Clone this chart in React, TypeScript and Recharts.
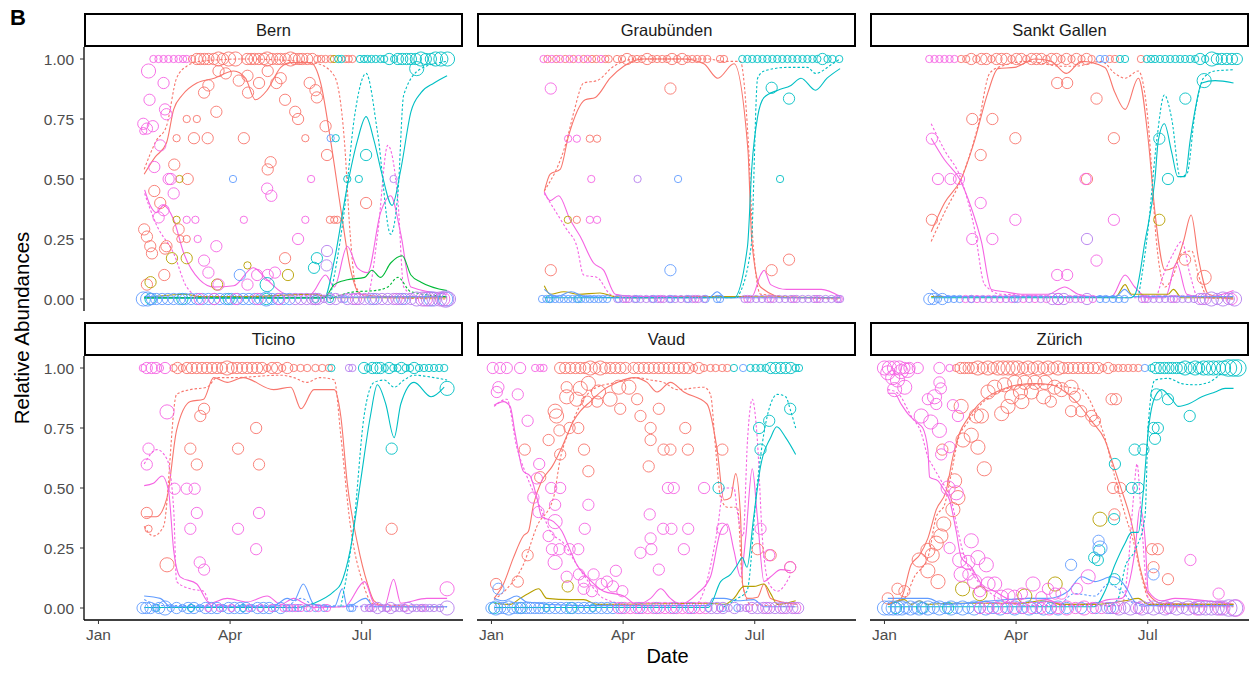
import React from 'react'
import { ComposedChart, Scatter, Line, XAxis, YAxis, ZAxis } from 'recharts'

// variant colours (ggplot hue) + blended purple for overlapping blue/magenta circles
const COLORS = ['#F8766D', '#B79F00', '#00BA38', '#00BFC4', '#619CFF', '#F564E3', '#B57FEE']

const MONTHS = ['Jan', 'Apr', 'Jul']
const MONTH_DAYS = [0, 91, 182]
const Y_TICKS = [0, 0.25, 0.5, 0.75, 1]

// row points: [day, variant, n]   (top row = 1.00, bottom row = 0.00)
// mid points: [day, value, variant, n]
// trends: { c: variant, dot: dotted?, p: [day, value][] }

const bernTop = [[38,5,1],[41.5,5,1],[45,5,1],[48.4,5,1],[52,5,1],[55.4,5,1],[58.5,5,1],[61,5,1],
  [64.7,0,1],[68,0,2],[70.4,0,2],[73.2,0,2],[76,0,2],[79.7,0,2],[83,0,3],[86,0,2],[90,0,3],[94.7,0,3],[102.8,0,2],[105.5,0,2],[107.9,0,2],[110.9,0,2],[114.3,0,2],[116.6,0,3],[120,0,2],[123.6,0,2],[125.9,0,2],[129.3,0,2],[132.8,0,3],[135.6,0,2],[138.6,0,2],[140.9,0,2],[144.3,0,2],[147.8,0,2],[151.3,0,1],[154,0,1],[157,0,1],[160.5,0,1],
  [162.8,1,1],[165.8,3,1],[168,3,1],[171,0,1],[173,0,1],[175.5,0,1],
  [180.8,3,1],[183.6,3,1],[186,3,1],[188.7,3,1],[191.7,3,1],[195,3,1],[197.5,3,1],[201,3,2],[204.4,3,1],[207,3,2],[210,3,2],[213,3,2],[216,3,2],[219.4,3,2],[222.9,3,3],[226.3,3,2],[229.8,3,2],[233,3,3],[236.7,3,3],[241.3,3,3]]
const bernBottom = [[31,4,3],[34,4,3],[37,4,2],[40,4,2],[44,4,2],[48,4,2],[52,4,2],[56,4,2],[60,4,2],[64,4,2],[68,4,2],[72,4,2],[76,4,2],[80,4,2],[84,4,2],[88,4,2],[92,4,2],[96,4,2],[100,4,2],[104,4,2],[108,4,2],[112,4,2],[116,4,3],[120,4,2],[124,4,2],[128,4,2],[132,4,2],
  [36,3,2],[58,3,2],[90,3,2],[116,3,2],[150,3,1],[160,3,1],[150,4,2],[170,4,1],[190,4,2],[210,4,2],[230,4,3],[240,4,3],
  [70,5,2],[80,5,2],[95,5,2],[110,5,2],[125,5,2],[136,6,2],[140,6,2],[144,6,2],[148,6,2],[152,6,2],[156,6,1],[160,6,2],[164,6,2],[168,6,1],[172,6,2],[176,6,2],[180,6,2],[184,6,2],[188,6,2],[192,6,2],[196,6,2],[200,6,2],[204,6,2],[208,6,2],[212,6,2],[216,6,2],[220,6,3],[224,6,3],[228,6,3],[232,6,3],[236,6,3],[240,6,4],[242,6,3],
  [150,5,2],[178,5,2],[206,5,2],[226,5,3],[238,5,3]]
const bernMid = [[34.6,.95,5,3],[45,.90,5,2],[35.3,.83,5,2],[46,.79,5,2],[47,.77,5,2],[31,.73,5,2],[33.5,.71,5,2],[37.6,.72,5,2],[31,.70,5,1],[42.7,.64,5,2],[38.6,.55,5,2],[48.5,.50,5,2],[50,.50,5,2],[52,.44,5,2],[41.6,.34,5,2],[45,.37,5,2],[61,.33,5,1],[67,.33,5,1],[68.6,.25,5,1],[73,.16,5,2],[76,.11,5,2],[81.5,.22,5,2],[83,.06,5,2],[100.5,.33,5,1],[116.6,.46,5,2],[119.5,.43,5,2],[109.7,.10,5,2],[117,.10,5,2],[122,.11,5,2],[138,.25,5,2],[147,.50,5,1],[143,.33,5,1],[103,.06,5,2],
  [31.6,.29,0,2],[33.5,.26,0,2],[37,.19,0,2],[35.8,.22,0,2],[47,.22,0,2],[46,.21,0,2],[45.5,.10,0,2],[33.5,.06,0,2],[52.4,.56,0,2],[38.6,.45,0,2],[42.7,.40,0,2],[55.4,.29,0,2],[56.6,.25,0,1],[61,.25,0,1],[61.7,.50,0,2],[54,.67,0,1],[61,.75,0,1],[68,.75,0,1],[66,.67,0,2],[75.5,.67,0,2],[73,.86,0,2],[76,.89,0,2],[81.5,.78,0,2],[83,.95,0,2],[88,.94,0,2],[97,.91,0,2],[100.5,.67,0,2],[103,.93,0,2],[103.4,.86,0,2],[111,.90,0,2],[117,.95,0,2],[119,.57,0,2],[117,.54,0,2],[123,.90,0,2],[126,.92,0,2],[129,.83,0,2],[129,.17,0,2],[136,.78,0,2],[138,.75,0,2],[143,.67,0,1],[146,.90,0,2],[150,.87,0,2],[151,.84,0,2],[157,.72,0,2],[158,.60,0,2],[160,.33,0,1],[163,.33,0,1],[165,.33,0,1],[185,.40,0,2],
  [36,.07,1,2],[50.8,.17,1,2],[61,.17,1,2],[56,.50,1,1],[54,.33,1,1],[103,.14,1,1],[131,.10,1,2],[82,.06,1,2],
  [116.6,.06,3,3],[151,.17,3,2],[149,.13,3,2],[164,.67,3,1],[172,.50,3,1],[180,.50,3,1],[185,.60,3,2],[220,.96,3,3],
  [93,.50,4,1],[97.7,.10,4,2],[160.5,.67,4,1],[204,.50,6,1],[158,.20,6,2],[157.7,.14,6,2]]
const bernTrends = [
  { c: 0, p: [[31.6,.52],[39,.59],[47,.65],[52,.79],[58,.85],[68,.90],[80,.92],[93.5,.95],[101.6,.92],[108.5,.83],[116.6,.87],[126,.965],[133,.985],[146.6,.985],[153.6,.90],[160.5,.66],[167.4,.38],[174,.13],[181,.02],[200,.01],[241,.01]] },
  { c: 0, dot: true, p: [[31.6,.54],[40,.66],[47,.72],[54,.92],[61,.97],[70,.99],[100,1],[140,.99],[152,.98],[163,.93],[170,.66],[174,.27],[178,.05],[185,.01],[241,0]] },
  { c: 5, p: [[31.9,.455],[35.8,.39],[40,.36],[45,.39],[52,.33],[59,.19],[70,.08],[80,.05],[93.5,.055],[107,.13],[116.6,.08],[130.5,.02],[146.6,.02],[157,.10],[163,.05],[172,.22],[179,.13],[186,.11],[195,.36],[202,.43],[209,.27],[216,.05],[241,.02]] },
  { c: 5, dot: true, p: [[31.9,.44],[40,.31],[52,.19],[61,.05],[70,.01],[186,.02],[193,.27],[200,.64],[207,.41],[211,.05],[220,.01],[241,.01]] },
  { c: 1, p: [[31.6,.005],[60,.02],[70,.01],[100,.01],[150,.02],[160,.005],[241,.005]] },
  { c: 4, p: [[31.6,.01],[80,.005],[241,.01]] },
  { c: 3, p: [[31.6,.003],[156,.003],[163,.16],[172,.47],[179,.66],[185,.76],[190.5,.66],[196,.52],[203,.39],[209,.54],[216,.78],[223,.86],[232,.90],[241,.93]] },
  { c: 3, dot: true, p: [[160,0],[170,.37],[177,.76],[185,.94],[193,.69],[202,.27],[207,.44],[211,.85],[223,.96],[241,.99]] },
  { c: 2, p: [[31.6,.005],[156,.005],[163,.06],[172,.08],[184,.09],[189,.12],[195,.09],[202,.15],[210,.18],[216,.10],[223,.07],[241,.035]] },
  { c: 2, dot: true, p: [[160,0],[177,.03],[191,.035],[200,.05],[207,.09],[216,.03],[241,.01]] },
]

const grauTop = [[36,5,1],[38.7,0,1],[41.7,5,1],[44.8,0,1],[47.5,5,1],[51,0,1],[54,5,1],[56.7,0,1],[60.2,5,1],[63.7,0,1],[66.5,5,1],[69.5,0,1],[72.5,0,1],[75.7,5,1],[78.7,0,1],[81,0,1],
  [86.8,0,1],[90.2,0,1],[93.7,0,2],[97.2,0,1],[100.6,0,1],[104,0,1],[107.6,0,2],[111,0,1],[114.5,0,1],[118,0,1],[121.4,0,1],[124.8,0,2],[128.4,0,1],[131.8,0,2],[135.3,0,1],[138.8,0,1],[142.2,0,1],[145.7,0,1],[149.2,0,1],[158,0,1],[160.7,0,1],
  [173.4,3,1],[176.9,3,1],[180.3,3,1],[183.8,3,1],[187.3,3,1],[190.7,3,1],[194.2,3,1],[197.6,3,1],[201.1,3,1],[204.6,3,1],[208,3,1],[211.5,3,1],[215,3,1],[218.4,3,1],[221.9,3,1],[225.3,3,1],[228.8,3,2],[232.3,3,1],[235.7,3,1],[240.4,3,1]]
const grauBottom = [[35,4,1],[38,4,1],[41,4,1],[44,4,1],[47,4,1],[50,4,1],[53,4,1],[56,4,1],[59,4,1],[62,4,1],[65,4,1],[68,4,1],[71,4,1],[74,4,1],[77,4,1],[80,4,1],[40,3,1],[60,3,1],
  [88,4,1],[100,4,1],[112,4,1],[124,4,1],[136,4,1],[148,4,1],[156,4,1],[158,4,1],
  [87,6,1],[91,6,1],[95,6,1],[99,6,1],[103,6,1],[107,6,1],[111,6,1],[115,6,1],[119,6,1],[123,6,1],[127,6,1],[131,6,1],[135,6,1],[139,6,1],[143,6,1],[147,6,1],
  [175,6,1],[179,6,1],[183,6,1],[187,6,1],[191,6,1],[195,6,1],[199,6,1],[203,6,1],[207,6,1],[211,6,1],[215,6,1],[219,6,1],[223,6,1],[227,6,1],[231,6,1],[235,6,1],[239,6,1],[241,6,1],
  [93,5,1],[117,5,1],[141,5,1],[177,5,1],[193,5,1],[209,5,1],[225,5,1],[240,5,1]]
const grauMid = [[41,.877,5,2],[123.7,.877,0,2],[53,.668,5,1],[59,.668,5,1],[68,.668,0,1],[73,.668,0,1],[69,.50,5,1],[101,.50,6,1],[129,.50,4,1],[199.5,.50,3,1],[52.8,.33,1,1],[59,.33,0,1],[68,.33,5,1],[73,.33,5,1],[41,.12,0,2],[123.7,.12,4,2],[193.7,.88,3,2],[205.7,.835,3,2],[193.7,.12,0,2],[205.7,.164,0,2]]
const grauTrends = [
  { c: 0, p: [[36.5,.447],[40.6,.52],[47.5,.54],[53.3,.68],[64.8,.83],[71.8,.84],[82,.92],[91.4,.97],[105,1],[133,1],[146.8,.98],[156.5,.92],[167.6,.98],[177.3,.62],[180,.24],[186,.05],[204,.005],[241,.005]] },
  { c: 0, dot: true, p: [[36.5,.45],[52,.66],[57,.78],[63.7,.90],[73,.91],[84.6,.97],[100,1],[150,1],[160,.99],[172,.99],[177.5,.66],[181,.22],[186,.02],[241,0]] },
  { c: 5, p: [[36.5,.447],[40.6,.41],[46.4,.43],[54.4,.33],[61.4,.26],[70.6,.15],[77.5,.12],[85.6,.02],[100,.01],[180,.01],[186,.10],[188.5,.12],[193,.06],[204,.04],[228,.04],[241,.01]] },
  { c: 5, dot: true, p: [[36.5,.44],[52,.29],[59,.22],[63.7,.10],[73,.09],[82,.02],[90,.005],[241,.005]] },
  { c: 1, p: [[36.5,.055],[40.6,.02],[50,.03],[60,.02],[75,.025],[85,.01],[100,.005],[160,.01],[241,.005]] },
  { c: 4, p: [[36.5,.04],[45,.01],[55,.03],[65,.01],[100,.005],[150,.005],[156,.03],[162,.005],[241,.005]] },
  { c: 3, p: [[36.5,.005],[167.6,.005],[177,.22],[180,.55],[184,.76],[188.5,.84],[198,.87],[207,.89],[214,.92],[224,.87],[232,.92],[241,.96]] },
  { c: 3, dot: true, p: [[170,.005],[179.5,.22],[184,.92],[188.5,.95],[204.6,.965],[218.4,.965],[224,.94],[235.7,.98],[241,1]] },
]

const gallenTop = [[31,5,1],[34.6,5,1],[38,5,1],[41.5,5,1],[45,5,1],[48.4,5,1],
  [53,0,1],[56.5,0,1],[60,0,2],[63.5,0,1],[67,0,2],[70.4,0,2],[73.9,0,1],[77.4,0,2],[80.8,0,2],[84.3,0,2],[87.8,0,1],[91.2,0,2],[94.6,0,2],[98,0,1],[101.6,0,2],[105,0,2],[108.5,0,2],[112,0,1],[115.4,0,2],[118.9,0,2],[122.4,0,1],[125.8,0,2],[129.3,0,1],[132.7,0,2],[136.2,0,1],[139.7,0,2],[143.2,0,1],
  [149,4,1],[152.4,4,1],[155.8,0,1],[159.3,0,1],[162.8,3,1],[166.3,3,1],[177.3,0,1],
  [181.3,3,1],[184.3,3,1],[187,3,1],[190.5,3,1],[194,3,1],[197.5,3,1],[201,3,1],[204.4,3,1],[207.8,3,1],[211.3,3,1],[214.8,3,1],[218.2,3,2],[221.7,3,1],[226.3,3,3],[229.8,3,2],[233.2,3,2],[236.7,3,2],[240.2,3,2],[243.6,3,2]]
const gallenBottom = [[31,4,2],[34,4,2],[37,4,1],[40,4,2],[44,4,1],[48,4,1],[52,4,1],[60,4,1],[90,4,1],[120,4,2],[149,4,1],[153,4,1],[158,4,1],[162,4,1],[166,4,1],
  [56,5,1],[60,6,1],[64,5,1],[68,6,1],[72,5,1],[76,6,1],[80,5,1],[84,6,1],[88,5,1],[92,6,1],[96,5,1],[100,6,1],[104,5,1],[108,6,1],[112,5,1],[116,6,2],[120,5,2],[124,6,2],[128,5,1],[132,6,1],[136,5,1],[140,6,2],[144,5,1],
  [178,6,1],[182,6,1],[186,6,1],[190,6,1],[194,6,1],[198,6,1],[202,6,1],[206,6,1],[210,6,1],[214,6,1],[218,6,2],[222,6,2],[226,6,3],[230,6,2],[234,6,3],[238,6,2],[242,6,3],
  [180,5,1],[200,5,1],[220,5,2],[240,5,2]]
const gallenMid = [[32.8,.668,5,2],[37,.50,5,2],[45.7,.50,5,2],[51.5,.50,5,2],[66.5,.40,5,2],[60.7,.25,5,2],[74.6,.25,5,2],[90.5,.33,5,2],[119.4,.10,5,2],[126.3,.10,5,2],[139,.50,5,2],[140,.50,0,2],[146.6,.16,5,2],[158.6,.33,5,2],[140,.25,6,2],
  [32.8,.33,0,2],[60.7,.75,0,2],[74.6,.75,0,2],[66.5,.60,0,2],[90.5,.67,0,2],[119.4,.90,0,2],[126.3,.90,0,2],[146.6,.835,0,2],[158.6,.67,0,2],[207.8,.164,0,2],[221,.09,0,3],
  [190,.33,1,2],[190,.668,3,2],[196,.50,3,2],[208,.835,3,2],[221,.91,3,3]]
const gallenTrends = [
  { c: 0, p: [[32.3,.28],[41.5,.40],[53,.50],[62.3,.66],[71.5,.86],[78.5,.96],[90,.965],[104,1],[115.4,.99],[125.8,.94],[136.2,.99],[152.4,.965],[159.3,.86],[166.3,.79],[175.5,.92],[182.4,.66],[187,.36],[194,.12],[199.7,.13],[206.7,.24],[212,.35],[217,.17],[224,.02],[241.3,0]] },
  { c: 0, dot: true, p: [[32.3,.24],[41.5,.36],[53,.50],[64.6,.72],[72.7,.94],[80.8,.97],[99.3,.99],[122.4,.97],[131.6,.97],[150,.99],[159.3,.94],[166.3,.92],[175.5,.95],[182.4,.73],[188,.24],[194,.05],[199.7,.10],[205.5,.19],[212.4,.20],[217,.10],[224,.005],[241,0]] },
  { c: 5, p: [[32.3,.67],[41.5,.58],[51.9,.50],[60,.38],[67,.24],[73.9,.04],[83,.03],[94.6,.02],[113,.02],[124.6,.05],[133.9,.02],[145,.01],[157,.01],[166.3,.10],[173,.05],[182.4,.005],[194,.005],[202,.15],[209,.02],[221.7,.005],[241.3,.035]] },
  { c: 5, dot: true, p: [[32.3,.73],[41.5,.62],[53,.50],[62.3,.29],[69.2,.06],[80.8,.02],[175,.005],[187,.005],[192.8,.10],[199.7,.19],[205.5,.24],[211.3,.10],[217,.005],[241,.005]] },
  { c: 1, p: [[32.3,.01],[160,.01],[166.3,.06],[170.8,.02],[196,.02],[199.7,.04],[205.5,.005],[241,.005]] },
  { c: 4, p: [[32.3,.04],[41.5,.01],[100,.01],[160,.01],[166,.04],[172,.01],[241,.01]] },
  { c: 3, p: [[32.3,.005],[170,.005],[173.3,.02],[180.1,.24],[187,.50],[189.3,.66],[193.5,.73],[198.6,.61],[202.7,.51],[207.8,.51],[211.3,.66],[214.8,.79],[219.4,.90],[228.6,.91],[241.3,.90]] },
  { c: 3, dot: true, p: [[175.5,.005],[182.4,.30],[188.2,.66],[193.5,.85],[198.6,.75],[204.4,.51],[209,.52],[214.8,.78],[220.5,.92],[228.6,.95],[241.3,.955]] },
]

const ticinoTop = [[30.7,5,1],[33.4,5,2],[36.8,5,2],[39.7,5,2],[42.5,5,1],[46,5,2],
  [51.9,0,1],[54.7,0,2],[57.7,0,1],[61.2,0,2],[64.6,0,2],[68,0,2],[71.6,0,2],[75,0,2],[78.5,0,2],[82,0,2],[85.4,0,2],[88.9,0,3],[92.3,0,2],[95.8,0,2],[99.3,0,2],[102.8,0,2],[106.2,0,2],[109.7,0,2],[113.1,0,2],[116.6,0,1],[120,0,2],[123.5,0,2],[127,0,1],[130.5,0,2],[135,0,1],[139.7,0,1],[144.3,0,1],[150,0,1],[154.7,0,1],[159.3,0,1],
  [161,3,1],[173.2,6,1],[175.5,6,1],
  [183.6,3,2],[186.3,3,1],[189.3,3,2],[192.3,3,2],[195,3,2],[197.9,3,1],[200.9,3,2],[203.9,3,1],[206.7,3,1],[209.4,3,2],[212.4,3,1],[215.4,3,1],[218.2,3,2],[221.6,3,1],[225.1,3,1],[228.5,3,1],[232,3,1],[235.5,3,1],[239,3,1]]
const ticinoBottom = [[30.5,4,2],[33,4,2],[36,4,2],[39,4,1],[42,4,2],[46,4,3],[50,4,1],[54,4,2],[58,4,1],[62,4,2],[66,4,2],[70,4,1],[74,4,2],[78,4,2],[82,4,2],[86,4,1],[90,4,2],[94,4,2],[98,4,2],[102,4,2],[106,4,1],[110,4,2],[114,4,2],[118,4,2],[122,4,1],[126,4,2],[130,4,1],[134,4,1],[138,4,1],[144,4,1],[150,4,1],[156,4,1],
  [40,3,1],[64,3,1],[100,3,1],
  [76,5,1],[84,5,1],[92,5,1],[104,5,1],[112,5,1],[120,5,1],[128,5,1],[132,5,1],[136,5,1],[140,5,1],[146,5,1],[152,5,1],[158,5,1],
  [174,4,1],[175.5,4,1],
  [184,6,1],[187,6,1],[190,6,1],[193,6,2],[196,6,1],[199,6,1],[202,6,2],[205,6,1],[208,6,1],[211,6,1],[214,6,2],[217,6,1],[220,6,1],[223,6,1],[226,6,1],[229,6,1],[232,6,1],[236,6,1],
  [188,5,1],[200,5,1],[212,5,1],[224,5,1],[241,6,3]]
const ticinoMid = [[47.4,.817,5,3],[34.6,.664,5,2],[33.4,.598,5,2],[52.6,.497,5,2],[61,.497,5,2],[66.5,.497,5,2],[68,.396,5,2],[111,.396,5,2],[63.5,.33,5,2],[96.5,.33,5,2],[109,.245,5,2],[70,.19,5,2],[73,.16,5,2],[241,.08,5,3],
  [73,.83,0,2],[70.4,.80,0,2],[109,.75,0,2],[63.5,.664,0,2],[96.5,.664,0,2],[68,.598,0,2],[111,.598,0,2],[33.4,.396,0,2],[34.6,.33,0,1],[47.4,.18,0,3],[202.7,.33,0,2],
  [241,.915,3,3],[202.7,.664,3,2]]
const ticinoTrends = [
  { c: 0, p: [[31.6,.38],[40,.38],[47.4,.46],[54,.74],[63.5,.86],[72.7,.87],[79.6,.96],[89,.94],[100,.96],[121,.91],[133,.92],[140,.83],[149,.91],[163,.91],[167.5,.80],[172,.52],[179,.27],[186,.10],[190.5,.03],[200,.005],[239,.005]] },
  { c: 0, dot: true, p: [[31.6,.34],[38,.30],[45,.34],[54,.89],[63.5,.91],[75,.92],[82,.96],[93,.96],[126,.97],[135,.96],[144,.94],[153,.96],[163,.95],[167.5,.72],[174,.35],[183,.10],[190.5,.015],[239,.005]] },
  { c: 5, p: [[31.6,.51],[38,.52],[44,.55],[48.4,.49],[52,.24],[56.5,.13],[68,.10],[77,.02],[89,.04],[102.8,.025],[116.6,.05],[126,.015],[135,.04],[142,.02],[149,.002],[170,.005],[184,.11],[190.5,.02],[197.5,.005],[204,.12],[209,.02],[227,.04],[241,.04]] },
  { c: 5, dot: true, p: [[31.6,.60],[40.4,.66],[47.4,.62],[52,.41],[54,.11],[63.5,.08],[72.7,.07],[77,.02],[100,.005],[241,.005]] },
  { c: 4, p: [[31.6,.05],[42.7,.04],[50,.005],[120,.005],[130.5,.04],[135,.03],[141.6,.10],[149,.015],[163,.005],[168.6,.08],[172,.005],[184.7,.04],[190.5,.005],[241,.005]] },
  { c: 4, dot: true, p: [[31.6,.035],[45,.01],[130,.01],[140,.04],[150,.01],[241,.005]] },
  { c: 3, p: [[31.6,.002],[137,.002],[149,.02],[163,.07],[167.5,.10],[174,.24],[181,.52],[188,.80],[192.8,.93],[198.6,.85],[204.4,.71],[209,.85],[218.2,.94],[230,.88],[239,.92]] },
  { c: 3, dot: true, p: [[167.5,.005],[176.6,.35],[183.6,.80],[190.5,.94],[197.5,.95],[204.4,.92],[211.3,.95],[218.2,.97],[232,.96],[241,.95]] },
]

const vaudTop = [[0.9,5,2],[6,5,2],[10.6,5,2],[19.8,5,2],[30.2,5,1],[33.7,5,1],[36,5,1],
  [47.5,0,2],[51,0,2],[54.5,0,2],[58,0,2],[61.4,0,2],[64.8,0,2],[68.3,0,3],[71.8,0,2],[75.2,0,3],[78.7,0,2],[82.2,0,2],[85.6,0,2],[89.1,0,2],[92.6,0,2],[98.3,0,2],[101.8,0,2],[105.3,0,2],[108.7,0,2],[112.2,0,2],[115.7,0,2],[119,0,2],[122.6,0,2],[126,0,2],[129.5,0,2],[133,0,2],[136.4,0,2],[140,0,1],[143.3,0,2],[146.8,0,1],[151.4,0,1],[155,0,1],[159.5,0,1],[163,0,1],
  [167.6,3,1],[174,4,1],[179,3,1],[182.6,3,1],[186,3,1],[189.6,3,1],[193,3,2],[196.5,3,2],[200,3,2],[203.4,3,2],[206.9,3,2],[210.3,3,1],[212.6,3,1]]
const vaudBottom = [[0,4,2],[3,4,3],[6,4,2],[9,4,2],[12,4,3],[15,4,2],[18,4,2],[21,4,2],[24,4,2],[27,4,2],[30,4,2],[33,4,2],[36,4,2],[40,4,2],[44,4,2],[48,4,2],[52,4,2],[56,4,2],[60,4,2],[64,4,2],[68,4,2],[72,4,2],[76,4,2],[80,4,2],[84,4,2],
  [2,3,2],[20,3,2],[38,3,1],[55,3,2],[70,3,1],
  [90,4,2],[102,4,2],[114,4,2],[126,4,2],[138,4,2],[150,4,1],[160,4,1],[170,4,1],
  [88,5,2],[92,5,2],[96,5,2],[100,5,2],[104,5,2],[108,5,2],[112,5,2],[116,5,2],[120,5,2],[124,5,2],[128,5,2],[132,5,2],[136,5,2],[140,5,2],[144,5,2],[148,5,2],
  [152,6,2],[156,6,2],[160,6,2],[164,6,1],[168,6,2],[172,6,1],[176,6,1],[180,6,2],[184,6,2],[188,6,2],[192,6,2],[196,6,2],[200,6,2],[204,6,2],[208,6,2],[212,6,2],
  [158,5,1],[178,5,1],[190,5,2],[202,5,2],[210,5,2]]
const vaudMid = [[3.7,.90,5,2],[4.8,.92,5,2],[18.2,.89,5,2],[25,.78,5,2],[33,.60,5,2],[31.4,.54,5,2],[29,.46,5,2],[32.5,.40,5,2],[41.3,.50,5,2],[47.5,.50,5,2],[44,.43,5,2],[44,.36,5,3],[39.5,.30,5,2],[41.8,.245,5,2],[47,.245,5,2],[54,.245,5,2],[60,.245,5,2],[44,.19,5,3],[52,.13,5,2],[60.5,.14,5,2],[64,.11,5,2],[70.6,.14,5,2],[79.8,.11,5,2],[86,.155,5,2],[90.5,.07,5,2],[84,.09,5,2],[76,.10,5,2],[63.7,.08,5,2],[69.5,.07,5,2],[64.5,.33,5,2],[67,.43,5,2],[103,.23,5,2],[109.4,.39,5,2],[110,.29,5,2],[110.5,.245,5,2],[118.7,.33,5,2],[124.4,.33,5,2],[122,.50,5,2],[126,.50,5,2],[147,.50,5,2],[136,.33,5,2],[133,.245,5,2],[115.7,.16,5,2],[159.5,.33,5,2],[186,.33,5,2],[206.5,.17,5,2],[192,.22,5,2],
  [3.2,.10,0,2],[18.2,.11,0,2],[25,.22,0,2],[23,.66,0,2],[33.7,.545,0,2],[39.5,.70,0,2],[44,.82,0,3],[45,.80,0,3],[52,.88,0,3],[47,.74,0,2],[54,.75,0,2],[60,.75,0,2],[64,.66,0,2],[67,.57,0,2],[47.5,.64,0,2],[61.4,.915,0,3],[67,.936,0,3],[74,.90,0,3],[82,.87,0,3],[88,.92,0,3],[95,.92,0,3],[89,.83,0,2],[100.7,.87,0,2],[103,.80,0,2],[110,.75,0,2],[110,.70,0,2],[115.7,.83,0,2],[119,.66,0,2],[123.7,.66,0,2],[135.8,.66,0,2],[134,.75,0,2],[108.7,.59,0,2],[52,.92,0,2],[59,.87,0,3],[66,.86,0,2],[73,.86,0,2],[159.6,.66,0,2],[184,.245,0,2],[206.5,.17,0,2],[193,.22,0,2],
  [52.7,.09,1,2],[157,.50,3,2],[185,.75,3,2],[192,.78,3,2],[186,.66,3,2],[206.5,.83,3,2],[4.8,.08,4,2]]
const vaudTrends = [
  { c: 0, p: [[1.8,.04],[8.3,.10],[15.2,.21],[22,.30],[25.6,.32],[29,.43],[34.8,.53],[42,.59],[48.7,.67],[56.8,.78],[61.4,.82],[68.3,.86],[77.5,.91],[86.8,.94],[98.3,.96],[107.6,.94],[114.5,.90],[123.7,.94],[133,.90],[149,.85],[156,.66],[160.7,.45],[165.3,.46],[168.8,.56],[172.2,.38],[173.6,.10],[177,.04],[184,.045],[188.4,.10],[193,.04],[211.5,.015]] },
  { c: 0, dot: true, p: [[1.8,.035],[10.6,.08],[22,.18],[31.4,.34],[42.9,.46],[47.5,.62],[54.5,.75],[63.7,.87],[72.9,.92],[86.8,.94],[100.6,.96],[110,.95],[119,.94],[128.4,.91],[146.8,.92],[151.4,.89],[155,.66],[158.4,.46],[163,.42],[170,.42],[173.6,.10],[179,.015],[211.5,.005]] },
  { c: 5, p: [[1.8,.845],[8.3,.86],[12.9,.84],[16.3,.73],[22,.57],[26.7,.55],[31.4,.46],[34.8,.38],[42.9,.36],[48.7,.32],[54.5,.24],[59,.18],[66,.13],[77.5,.07],[91.4,.05],[100.6,.015],[110,.04],[117,.08],[123.7,.04],[130.7,.015],[142.2,.06],[151.4,.13],[158.4,.32],[163,.35],[167.6,.24],[172.2,.13],[175.7,.29],[180.3,.58],[183.8,.38],[188.4,.11],[193,.13],[200,.16],[206.9,.155]] },
  { c: 5, dot: true, p: [[1.8,.84],[10.6,.87],[17.5,.67],[24.4,.55],[33.7,.42],[40.6,.32],[49.8,.27],[59,.18],[68.3,.10],[77.5,.04],[100,.01],[140,.01],[146.8,.07],[156,.32],[160.7,.50],[167.6,.50],[170,.40],[174,.30],[177,.70],[180.3,.87],[183.8,.70],[187.3,.29],[192,.10],[197.7,.07],[206.9,.14]] },
  { c: 1, p: [[1.8,.02],[12.9,.015],[19.8,.04],[25.6,.06],[32.6,.08],[38.3,.04],[54.5,.035],[63.7,.035],[72.9,.015],[150,.02],[161,.015],[167.6,.04],[174.5,.09],[181.3,.09],[188.4,.10],[193,.06],[197.7,.015],[210.3,.03]] },
  { c: 4, p: [[1.8,.04],[8.3,.03],[17.5,.05],[24.4,.025],[60,.01],[150,.01],[153,.04],[160.7,.04],[170,.03],[181.3,.035],[188.4,.005],[210.3,.005]] },
  { c: 3, p: [[1.8,.002],[150,.002],[158.4,.11],[165.3,.14],[170,.18],[173.4,.21],[176.6,.17],[181.3,.38],[186,.59],[193,.71],[197.2,.755],[203.4,.71],[210.3,.64]] },
  { c: 3, dot: true, p: [[160,.002],[170,.04],[176.6,.07],[183.8,.52],[188.4,.73],[193,.85],[197.7,.89],[203.4,.88],[206.9,.82],[210.3,.75]] },
]

const zurichTop = [[0,5,3],[3.4,5,3],[6.9,5,3],[10.3,5,3],[13.8,5,2],[17.3,5,2],[23,5,2],[38,5,2],[45,5,1],
  [49.6,0,1],[52.6,0,2],[55.4,0,2],[58.2,0,2],[61.2,0,2],[64.6,0,3],[68,0,2],[71.6,0,3],[75,0,2],[78.5,0,3],[82,0,3],[85.4,0,3],[88.9,0,3],[92.3,0,3],[95.8,0,2],[99.3,0,3],[102.7,0,2],[106.2,0,3],[109.7,0,2],[113.1,0,3],[116.6,0,2],[120,0,3],[123.5,0,2],[127,0,2],[130.4,0,2],[133.9,0,2],[137.4,0,2],[140.8,0,2],[144.3,0,2],[147.8,0,2],[151.2,0,1],[154.7,0,2],[158.2,0,1],[161.7,0,1],[165,0,1],[168.5,0,1],[172,0,1],[175.5,0,1],
  [180,4,1],[184.7,3,1],[187.5,3,2],[190.5,3,2],[193.5,3,2],[196.3,3,2],[199,3,2],[202,3,2],[205,3,2],[207.8,3,3],[211.3,3,2],[214.8,3,3],[217.5,3,2],[220.6,3,3],[224,3,3],[227.4,3,3],[230.9,3,3],[234.4,3,3],[237.8,3,4],[241.3,3,4],[244.3,3,4]]
const zurichBottom = [[0,4,3],[3,4,3],[6,4,3],[9,4,3],[12,4,3],[15,4,2],[18,4,3],[21,4,2],[24,4,3],[27,4,2],[30,4,3],[34,4,2],[38,4,3],[42,4,2],[46,4,3],[50,4,2],[54,4,3],[58,4,2],[62,4,3],[66,4,2],[70,4,3],[75,4,2],[80,4,3],[85,4,2],[90,4,3],[95,4,2],[100,4,3],[105,4,2],[110,4,3],[115,4,2],[120,4,3],
  [8,3,2],[26,3,2],[44,3,2],[126,4,2],[136,4,2],[146,4,2],[156,4,2],
  [66,5,2],[72,5,2],[78,5,2],[84,5,2],[90,5,2],[96,5,2],[102,5,2],[108,5,2],[114,5,3],[120,5,2],[126,5,3],[132,5,2],[138,5,3],[144,5,2],[150,5,2],
  [154,6,2],[158,6,2],[162,6,3],[166,6,2],[170,6,3],[174,6,2],[178,6,3],[182,6,2],[186,6,3],[190,6,2],[194,6,3],[198,6,2],[202,6,3],[206,6,2],[210,6,3],[214,6,2],[218,6,3],[222,6,3],[226,6,3],[230,6,3],[234,6,3],[238,6,4],[242,6,4],
  [160,5,2],[176,5,2],[196,5,2],[216,5,3],[232,5,3],[243,5,4]]
const zurichMid = [[2.3,.98,5,3],[5.7,.96,5,3],[11.5,.985,5,3],[9,.95,5,3],[16,.99,5,3],[7,.91,5,3],[14,.92,5,3],[38,.94,5,2],[39,.915,5,2],[34.6,.88,5,3],[30,.87,5,2],[35.8,.85,5,2],[25.4,.80,5,3],[32,.775,5,3],[38,.74,5,3],[47.3,.845,5,2],[50.8,.80,5,2],[39.2,.64,5,2],[45,.67,5,2],[44,.50,5,3],[49.6,.48,5,3],[45,.25,5,2],[52,.20,5,3],[57.7,.19,5,3],[64.6,.21,5,3],[70.4,.18,5,3],[60,.28,5,3],[53,.14,5,3],[62.3,.11,5,3],[71.6,.10,5,3],[76.2,.10,5,3],[80.8,.045,5,3],[85.4,.05,5,3],[90,.045,5,3],[102.7,.10,5,3],[108.5,.045,5,2],[122.4,.06,5,2],[140.8,.13,5,3],[211.5,.20,5,2],[231,.06,5,2],[58,.14,5,2],[66,.07,5,2],[95,.06,5,2],[113,.08,5,2],[133,.08,5,2],[118,.06,5,2],
  [2.3,.04,0,2],[9,.08,0,2],[13.8,.07,0,2],[24,.20,0,3],[30,.24,0,3],[33,.22,0,3],[35.8,.27,0,3],[39,.30,0,3],[30,.155,0,3],[37,.11,0,3],[41,.35,0,3],[47.3,.41,0,3],[48.5,.53,0,3],[50.8,.46,0,3],[40,.66,0,2],[54.3,.70,0,3],[60,.72,0,3],[53,.84,0,3],[63.5,.80,0,3],[67,.80,0,3],[64.6,.67,0,3],[69,.58,0,3],[71.6,.90,0,3],[76.2,.92,0,3],[83,.93,0,3],[90,.94,0,3],[97,.94,0,3],[104,.94,0,3],[111,.94,0,3],[117.7,.92,0,3],[122.4,.91,0,3],[129,.92,0,3],[81,.81,0,3],[85.4,.84,0,3],[101.6,.90,0,3],[131.6,.88,0,2],[129,.82,0,2],[136,.82,0,2],[143,.80,0,2],[145.5,.78,0,2],[157,.87,0,2],[160,.87,0,2],[158,.50,0,2],[163,.50,0,2],[159,.39,0,2],[185,.245,0,2],[189,.245,0,2],[186,.17,0,2],[196,.12,0,2],[88,.88,0,3],[94,.90,0,3],[110,.88,0,3],[115,.86,0,2],[95,.86,0,3],
  [54,.08,1,3],[66,.06,1,3],[97,.05,1,3],[118,.10,1,3],[149,.37,1,3],
  [158.7,.37,3,2],[159.3,.60,3,2],[173,.66,3,2],[179,.66,3,2],[186,.75,3,2],[189,.75,3,2],[187,.705,3,2],[171,.50,3,2],[175.5,.50,3,2],[188,.89,3,2],[196,.87,3,2],[211,.80,3,2],[145,.21,3,2],[147.5,.20,3,2],[148.5,.24,3,2],[159,.12,3,2],
  [129,.18,4,2],[149,.25,4,3],[186,.14,4,2],[148,.28,4,2]]
const zurichTrends = [
  { c: 0, p: [[2.3,.015],[11.5,.04],[18.4,.18],[24.2,.22],[30,.29],[35.8,.41],[42.7,.49],[47.3,.63],[52,.73],[57.7,.79],[64.6,.845],[74,.89],[83,.915],[92.3,.93],[104,.935],[115.4,.93],[127,.89],[134,.85],[143,.78],[152.4,.70],[158,.60],[164,.49],[171,.35],[176.6,.17],[182.4,.06],[191.6,.02],[241.3,.015]] },
  { c: 0, dot: true, p: [[2.3,.015],[13.8,.04],[20.7,.13],[30,.21],[35.8,.38],[41.5,.43],[46.2,.56],[50.8,.70],[57.7,.775],[66.9,.85],[76.2,.89],[87.7,.92],[99.3,.93],[113,.93],[127,.92],[136.2,.91],[145.5,.82],[152.4,.71],[159.3,.545],[166.3,.39],[172,.28],[177.8,.13],[182.4,.04],[191.6,.005],[241.3,.005]] },
  { c: 5, p: [[2.3,.895],[6.9,.895],[11.5,.85],[16.1,.81],[23,.77],[26.5,.75],[30,.66],[31.2,.545],[37,.53],[40.4,.50],[45,.45],[49.6,.32],[53.1,.21],[60,.17],[67,.10],[76.2,.07],[87.7,.035],[99.3,.04],[113,.035],[122.4,.015],[145.5,.02],[154.7,.035],[163.9,.04],[173.2,.24],[176.6,.42],[180.1,.29],[182.4,.07],[191.6,.03],[200.9,.04],[214.8,.035],[241.3,.015]] },
  { c: 5, dot: true, p: [[2.3,.91],[9.2,.895],[18.4,.80],[25.4,.73],[30,.63],[33.5,.59],[39.2,.53],[46.2,.45],[50.8,.32],[55.4,.21],[62.3,.13],[71.6,.07],[80.8,.035],[100,.01],[164,.01],[168.5,.18],[172,.45],[174.6,.60],[177.8,.35],[182.4,.04],[191.6,.005],[241,.005]] },
  { c: 1, p: [[2.3,.015],[9.2,.03],[13.8,.035],[18.4,.015],[24.2,.03],[30,.015],[43.8,.02],[94.6,.02],[108.5,.03],[122.4,.015],[145.5,.015],[166.3,.03],[175.5,.04],[182.4,.015],[241.3,.015]] },
  { c: 4, p: [[2.3,.04],[11.5,.04],[30,.04],[41.5,.015],[99.3,.04],[113,.04],[127,.07],[136.2,.13],[145.5,.11],[157,.13],[164,.11],[168.5,.07],[173.2,.025],[182.4,.01],[241.3,.01]] },
  { c: 4, dot: true, p: [[122.4,.015],[131.6,.06],[145.5,.05],[154.7,.10],[163.9,.07],[173.2,.015],[182.4,.005]] },
  { c: 3, p: [[2.3,.005],[145,.005],[152.4,.07],[159.3,.18],[166.3,.27],[170.8,.315],[175.5,.315],[179,.49],[182.4,.74],[187,.88],[191.6,.91],[198.6,.87],[203.2,.84],[210.1,.85],[219.4,.88],[228.6,.90],[235.5,.915],[241.3,.915]] },
  { c: 3, dot: true, p: [[154.7,.005],[161.6,.04],[166.3,.17],[173.2,.24],[180.1,.38],[182.4,.77],[187,.95],[196.3,.957],[205.5,.935],[214.8,.93],[224,.94],[233.2,.98]] },
]

// layout
const COL_X = [84, 477, 870]
const STRIP_Y = [13, 322]
const STRIP_H = 34
const PW = 379
const PH = 264
const YW = 50
const XH = 34
const FONT = '"Liberation Sans", Arial, Helvetica, sans-serif'

type Trend = { c: number; dot?: boolean; p: number[][] }

function Panel({ title, col, row, top, bottom, mid, trends }: {
  title: string; col: number; row: number; top: number[][]; bottom: number[][]; mid: number[][]; trends: Trend[]
}) {
  const plotTop = STRIP_Y[row] + STRIP_H
  const showY = col === 0
  const showX = row === 1
  const pts = [
    ...top.map(([d, c, n]) => ({ x: d, y: 1, c, n })),
    ...bottom.map(([d, c, n]) => ({ x: d, y: 0, c, n })),
    ...mid.map(([d, v, c, n]) => ({ x: d, y: v, c, n })),
  ]
  return (
    <>
      <div style={{
        position: 'absolute', left: COL_X[col], top: STRIP_Y[row], width: PW, height: STRIP_H,
        border: '2px solid #000', boxSizing: 'border-box', display: 'flex', alignItems: 'center',
        justifyContent: 'center', fontSize: 16.5, color: '#1A1A1A', background: '#fff',
      }}>{title}</div>
      <div style={{ position: 'absolute', left: COL_X[col] - YW, top: plotTop }}>
        <ComposedChart width={PW + YW} height={PH + XH} margin={{ top: 0, right: 0, bottom: 0, left: 0 }}>
          <XAxis
            type="number" dataKey="x" domain={[-10, 252]} allowDataOverflow
            ticks={MONTH_DAYS} tickFormatter={(v) => MONTHS[MONTH_DAYS.indexOf(v)] ?? ''}
            height={XH} tickSize={4} tickMargin={5}
            tick={showX ? { fill: '#4D4D4D', fontSize: 15.5 } : false}
            tickLine={showX ? { stroke: '#333' } : false}
            axisLine={showX ? { stroke: '#000', strokeWidth: 1.3 } : false}
          />
          <YAxis
            type="number" dataKey="y" domain={[-0.05, 1.05]} allowDataOverflow
            ticks={Y_TICKS} tickFormatter={(v) => v.toFixed(2)}
            width={YW} tickSize={4} tickMargin={6}
            tick={showY ? { fill: '#4D4D4D', fontSize: 15.5 } : false}
            tickLine={showY ? { stroke: '#333' } : false}
            axisLine={showY ? { stroke: '#000', strokeWidth: 1.3 } : false}
          />
          <ZAxis type="number" dataKey="n" domain={[1, 4]} range={[42, 215]} />
          {COLORS.map((color, i) => (
            <Scatter key={'s' + i} data={pts.filter((p) => p.c === i)} fill="none" stroke={color}
              strokeWidth={0.9} isAnimationActive={false} />
          ))}
          {trends.map((t, i) => (
            <Line key={'l' + i} data={t.p.map(([x, y]) => ({ x, y }))} dataKey="y" type="monotone"
              stroke={COLORS[t.c]} strokeWidth={1.1} strokeDasharray={t.dot ? '2.5 2' : undefined}
              dot={false} activeDot={false} isAnimationActive={false} />
          ))}
        </ComposedChart>
      </div>
    </>
  )
}

export default function App() {
  return (
    <div style={{ position: 'absolute', left: 0, top: 0, width: 1259, height: 673, background: '#fff', fontFamily: FONT, overflow: 'hidden' }}>
      <div style={{ position: 'absolute', left: 10, top: 5, fontSize: 22, fontWeight: 'bold', color: '#000' }}>B</div>
      <Panel title="Bern" col={0} row={0} top={bernTop} bottom={bernBottom} mid={bernMid} trends={bernTrends} />
      <Panel title="Graubünden" col={1} row={0} top={grauTop} bottom={grauBottom} mid={grauMid} trends={grauTrends} />
      <Panel title="Sankt Gallen" col={2} row={0} top={gallenTop} bottom={gallenBottom} mid={gallenMid} trends={gallenTrends} />
      <Panel title="Ticino" col={0} row={1} top={ticinoTop} bottom={ticinoBottom} mid={ticinoMid} trends={ticinoTrends} />
      <Panel title="Vaud" col={1} row={1} top={vaudTop} bottom={vaudBottom} mid={vaudMid} trends={vaudTrends} />
      <Panel title="Zürich" col={2} row={1} top={zurichTop} bottom={zurichBottom} mid={zurichMid} trends={zurichTrends} />
      <div style={{ position: 'absolute', left: 0, width: 1259, paddingLeft: 76, boxSizing: 'border-box', top: 645, textAlign: 'center', fontSize: 20, color: '#000' }}>Date</div>
      <div style={{
        position: 'absolute', left: 22, top: 328, transform: 'translate(-50%, -50%) rotate(-90deg)',
        whiteSpace: 'nowrap', fontSize: 20.5, color: '#000',
      }}>Relative Abundances</div>
    </div>
  )
}
